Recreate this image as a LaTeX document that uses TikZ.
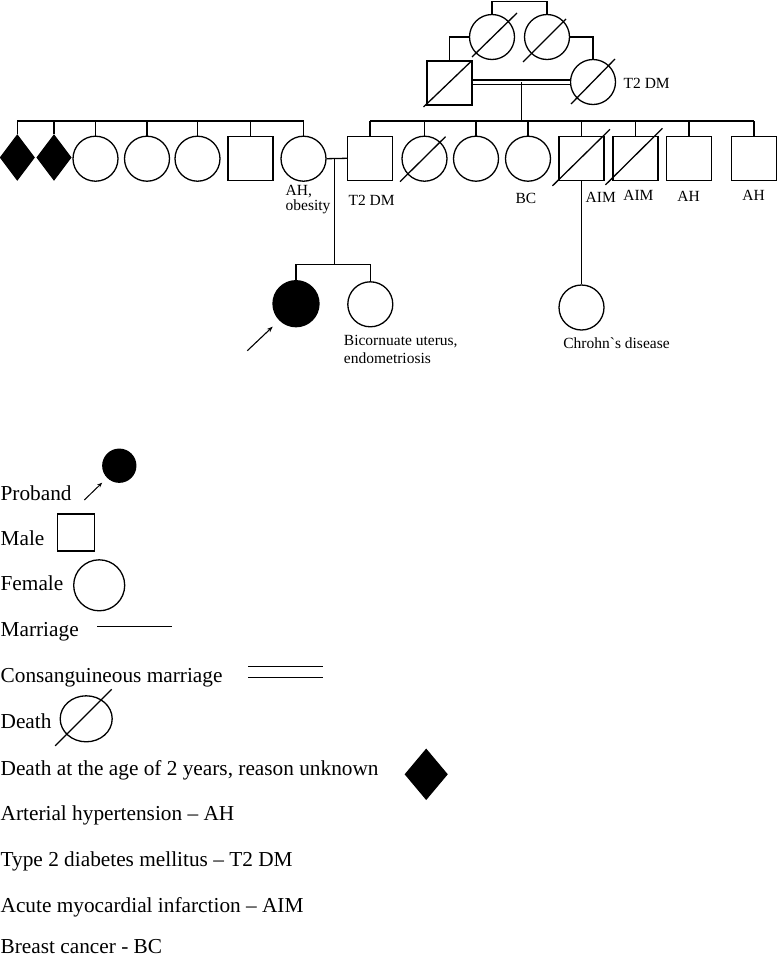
\documentclass[tikz,border=0pt]{standalone}
\usepackage{fontspec}
\setmainfont{Liberation Serif}
\usetikzlibrary{shapes.geometric,arrows.meta,calc,positioning}

\begin{document}
\begin{tikzpicture}[x=1pt,y=-1pt,line width=1.3pt,
    male/.style={draw,rectangle,minimum width=45pt,minimum height=44pt,inner sep=0pt},
    female/.style={draw,circle,minimum size=45pt,inner sep=0pt},
    earlydeath/.style={draw,fill=black,diamond,minimum width=34pt,minimum height=45pt,inner sep=0pt},
    lbl/.style={anchor=base west,inner sep=0pt,font=\fontsize{15.5}{15.5}\selectfont},
    leg/.style={anchor=base west,inner sep=0pt,font=\fontsize{21.3}{25}\selectfont}]
    \useasboundingbox (0,0) rectangle (778,959);
    % generation I
    \node[female] (g1) at (492,37) {};
    \node[female] (g2) at (547,37) {};
    \node[male] (gf) at (449.5,83) {};
    \node[female] (gm) at (593,82) {};
    \coordinate (top) at (0,1.5);
    \draw (g1.north) -- (g1.north |- top) -- (g2.north |- top) -- (g2.north);
    \draw (g1.west) -| (gf.north);
    \draw (g2.east) -| (gm.north);
    \draw[double,double distance=3pt] (gf.east |- gm.west) -- (gm.west);
    \draw ([shift={(-20,20)}]g1.center) -- ([shift={(25,-24)}]g1.center);
    \draw ([shift={(-24,25)}]g2.center) -- ([shift={(19,-18)}]g2.center);
    \draw ([shift={(-26,24)}]gf.center) -- ([shift={(22,-22)}]gf.center);
    \draw ([shift={(-22,22)}]gm.center) -- ([shift={(22,-23)}]gm.center);
    \node[lbl] (gmlbl) at (623,88.3) {T2 DM};
    % generation II
    \coordinate (sib) at (0,121);
    \node[earlydeath] (a1) at (17.3,157.5) {};
    \node[earlydeath] (a2) at (54,157.5) {};
    \node[female] (a3) at (95.5,158.7) {};
    \node[female] (a4) at (147,158.7) {};
    \node[female] (a5) at (197.5,158.7) {};
    \node[male] (a6) at (250.5,158.3) {};
    \node[female] (mo) at (303.5,158.7) {};
    \node[male] (fa) at (370,158.3) {};
    \node[female] (u1) at (424.5,158.7) {};
    \node[female] (u2) at (476,158.7) {};
    \node[female] (u3) at (528,158.7) {};
    \node[male] (u4) at (581.5,158.3) {};
    \node[male] (u5) at (635.5,158.3) {};
    \node[male] (u6) at (689,158.3) {};
    \node[male] (u7) at (754,158.7) {};
    \draw (a1.north |- sib) -- (mo.north |- sib);
    \draw (fa.north |- sib) -- (u7.north |- sib);
    \foreach \n in {a1,a2,a3,a4,a5,a6,mo,fa,u1,u2,u3,u4,u5,u6,u7}
        \draw (\n.north) -- (\n.north |- sib);
    \coordinate (cm) at ($(gf.east |- gm.west)!0.5!(gm.west)$);
    \draw (cm) -- (cm |- sib);
    \draw ([shift={(-24.5,23)}]u1.center) -- ([shift={(21,-22)}]u1.center);
    \draw ([shift={(-29,27.5)}]u4.center) -- ([shift={(28.5,-29)}]u4.center);
    \draw ([shift={(-30,26.5)}]u5.center) -- ([shift={(27,-30)}]u5.center);
    \draw (mo.east) -- (fa.west);
    \node[lbl] (ah1) at (285,195) {AH,};
    \node[lbl] (ah2) at (285,210) {obesity};
    \node[lbl] (falbl) at (348,205) {T2 DM};
    \node[lbl] (u3lbl) at (515,203) {BC};
    \node[lbl] (u4lbl) at (585,202.7) {AIM};
    \node[lbl] (u5lbl) at (622.7,200) {AIM};
    \node[lbl] (u6lbl) at (676.7,201.7) {AH};
    \node[lbl] (u7lbl) at (741.7,200) {AH};
    % generation III
    \coordinate (sib3) at (0,264.3);
    \coordinate (mar) at ($(mo.east)!0.4!(fa.west)$);
    \node[female,fill=black,minimum size=46pt] (pb) at (296,303.7) {};
    \node[female] (si) at (370.3,304.3) {};
    \node[female] (cr) at (581.5,307.5) {};
    \draw (mar) -- (mar |- sib3);
    \draw (pb.north) -- (pb.north |- sib3) -- (si.north |- sib3) -- (si.north);
    \draw (u4.south) -- (cr.north);
    \coordinate (pbtail) at (247.3,350.7);
    \draw[line width=1.1pt,-{Stealth[length=6pt,width=4.5pt]},shorten >=9pt] (pbtail) -- (pb.south west);
    \node[lbl] (silbl1) at (343.3,345) {Bicornuate uterus,};
    \node[lbl] (silbl2) at (343.3,363) {endometriosis};
    \node[lbl] (crlbl) at (562.7,348.3) {Chrohn\textasciigrave s disease};
    % legend
    \node[leg] (tproband) at (0,500) {Proband};
    \node[draw,fill=black,circle,minimum size=33pt,inner sep=0pt] (lpb) at (119.3,465.7) {};
    \coordinate (lpbtail) at (84.3,500);
    \draw[line width=1pt,-{Stealth[length=5pt,width=4pt]},shorten >=7pt] (lpbtail) -- (lpb.south west);
    \node[leg] (tmale) at (0,545) {Male};
    \node[draw,rectangle,minimum size=37pt,inner sep=0pt] (lm) at (76.2,532.5) {};
    \node[leg] (tfemale) at (0,590.7) {Female};
    \node[draw,circle,minimum size=51pt,inner sep=0pt] (lf) at (99.2,585.3) {};
    \node[leg] (tmar) at (0,636.7) {Marriage};
    \coordinate (mar1) at (97.3,626.7);
    \coordinate (mar2) at (172.3,626.7);
    \draw[line width=1.1pt] (mar1) -- (mar2);
    \node[leg] (tcons) at (0,682.7) {Consanguineous marriage};
    \coordinate (cons1) at (248.3,671.7);
    \coordinate (cons2) at (322.7,671.7);
    \draw[line width=1.1pt,double,double distance=10.2pt] (cons1) -- (cons2);
    \node[leg] (tdeath) at (0,728.3) {Death};
    \node[draw,ellipse,minimum width=52pt,minimum height=46pt,inner sep=0pt] (ld) at (86.2,718.8) {};
    \draw ([shift={(-31,27)}]ld.center) -- ([shift={(25.5,-29.5)}]ld.center);
    \node[leg] (tearly) at (0,775) {Death at the age of 2 years, reason unknown};
    \node[earlydeath,minimum width=42pt,minimum height=50pt] (ldm) at (426.2,774.3) {};
    \node[leg] (tah) at (0,820.7) {Arterial hypertension – AH};
    \node[leg] (tdm) at (0,866.7) {Type 2 diabetes mellitus – T2 DM};
    \node[leg] (taim) at (0,912.7) {Acute myocardial infarction – AIM};
    \node[leg] (tbc) at (0,953.5) {Breast cancer - BC};
\end{tikzpicture}
\end{document}
